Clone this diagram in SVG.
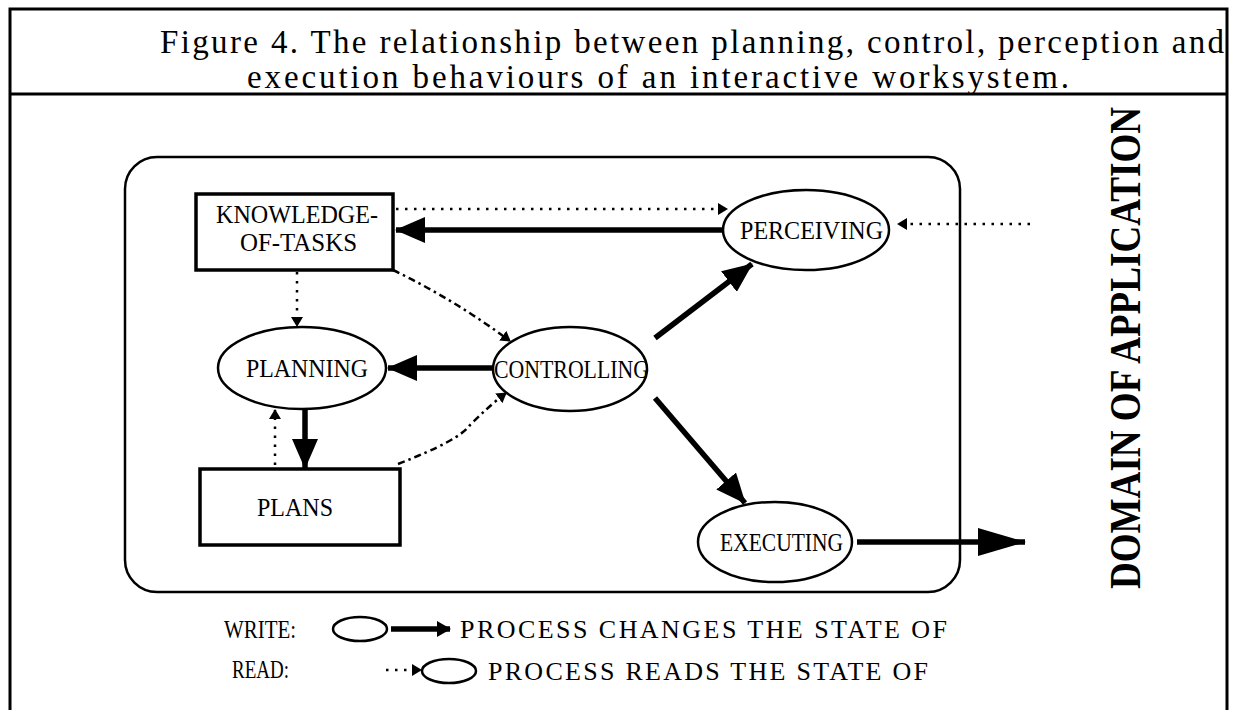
<svg xmlns="http://www.w3.org/2000/svg" width="1235" height="710" viewBox="0 0 1235 710">
<style>
  .frame{fill:none;stroke:#000;stroke-width:3}
  .node{fill:#fff;stroke:#000;stroke-width:3.5}
  .ell{fill:#fff;stroke:#000;stroke-width:2.5}
  .lbl{font-family:'Liberation Serif','Times New Roman',serif;font-size:25px;fill:#000}
  .leg{font-family:'Liberation Serif','Times New Roman',serif;font-size:26px;fill:#000}
  .title{font-family:'Liberation Serif','Times New Roman',serif;font-size:33px;fill:#000}
  .dom{font-family:'Liberation Serif','Times New Roman',serif;font-size:45px;font-weight:bold;fill:#000}
  .thick{stroke:#000;stroke-width:5.5;fill:none}
  .dot{stroke:#000;stroke-width:2.5;fill:none;stroke-dasharray:2.5 6.5}
  .dash{stroke:#000;stroke-width:2.5;fill:none;stroke-dasharray:7 4 2.5 4}
</style>
<defs>
  <marker id="big" markerUnits="userSpaceOnUse" markerWidth="30" markerHeight="26" refX="29" refY="13" orient="auto">
    <polygon points="0,0 30,13 0,26" fill="#000"/>
  </marker>
  <marker id="huge" markerUnits="userSpaceOnUse" markerWidth="48" markerHeight="28" refX="47" refY="14" orient="auto">
    <polygon points="0,0 48,14 0,28" fill="#000"/>
  </marker>
  <marker id="small" markerUnits="userSpaceOnUse" markerWidth="10" markerHeight="12" refX="9" refY="6" orient="auto">
    <polygon points="0,0 10,6 0,12" fill="#000"/>
  </marker>
  <marker id="mid" markerUnits="userSpaceOnUse" markerWidth="14" markerHeight="16" refX="13" refY="8" orient="auto">
    <polygon points="0,0 14,8 0,16" fill="#000"/>
  </marker>
</defs>
<rect width="1235" height="710" fill="#fff"/>

<g id="frame">
  <path class="frame" d="M10,712 V9 H1227 V712"/>
  <line x1="10" y1="94" x2="1227" y2="94" stroke="#000" stroke-width="3"/>
  <text class="title" x="160" y="53" textLength="1064" lengthAdjust="spacing">Figure 4. The relationship between planning, control, perception and</text>
  <text class="title" x="247" y="88" textLength="822" lengthAdjust="spacing">execution behaviours of an interactive worksystem.</text>
</g>

<g id="workspace">
  <rect x="125" y="157" width="835" height="435" rx="32" ry="32" fill="none" stroke="#000" stroke-width="2.5"/>
</g>

<g id="domain">
  <text class="dom" transform="translate(1140,348) rotate(-90)" text-anchor="middle" textLength="482" lengthAdjust="spacingAndGlyphs">DOMAIN OF APPLICATION</text>
</g>

<g id="connectors">
  <line class="thick" x1="724" y1="230" x2="396" y2="230" marker-end="url(#big)"/>
  <line class="dot" x1="396" y1="209" x2="727" y2="209" marker-end="url(#small)"/>
  <line class="dot" x1="1030" y1="224" x2="898" y2="224" marker-end="url(#small)"/>
  <line class="dot" x1="297" y1="272" x2="297" y2="326" marker-end="url(#small)"/>
  <path class="dash" d="M393,270 Q455,300 510,341" marker-end="url(#small)"/>
  <line class="thick" x1="492" y1="368" x2="388" y2="368" marker-end="url(#big)"/>
  <line class="thick" x1="655" y1="338" x2="752" y2="264" marker-end="url(#big)"/>
  <line class="thick" x1="655" y1="398" x2="745" y2="503" marker-end="url(#big)"/>
  <line class="thick" x1="305" y1="409" x2="305" y2="468" marker-end="url(#big)"/>
  <line class="dot" x1="275" y1="465" x2="275" y2="410" marker-end="url(#small)"/>
  <path class="dash" d="M398,464 Q460,440 470,425 Q490,405 506,393" marker-end="url(#small)"/>
  <line class="thick" x1="857" y1="542" x2="1025" y2="542" marker-end="url(#huge)"/>
</g>

<g id="knowledge">
  <rect class="node" x="196" y="194" width="197" height="76"/>
  <text class="lbl" x="216" y="223" textLength="162" lengthAdjust="spacingAndGlyphs">KNOWLEDGE-</text>
  <text class="lbl" x="240" y="251" textLength="117" lengthAdjust="spacingAndGlyphs">OF-TASKS</text>
</g>
<g id="perceiving">
  <ellipse class="ell" cx="806" cy="230" rx="83" ry="40"/>
  <text class="lbl" x="740" y="239" textLength="143" lengthAdjust="spacingAndGlyphs">PERCEIVING</text>
</g>
<g id="planning">
  <ellipse class="ell" cx="302" cy="368" rx="84" ry="41"/>
  <text class="lbl" x="246" y="377" textLength="122" lengthAdjust="spacingAndGlyphs">PLANNING</text>
</g>
<g id="controlling">
  <ellipse class="ell" cx="570" cy="369" rx="77" ry="42"/>
  <text class="lbl" x="494" y="378" textLength="155" lengthAdjust="spacingAndGlyphs">CONTROLLING</text>
</g>
<g id="plans">
  <rect class="node" x="200" y="469" width="200" height="76"/>
  <text class="lbl" x="257" y="516" textLength="76" lengthAdjust="spacingAndGlyphs">PLANS</text>
</g>
<g id="executing">
  <ellipse class="ell" cx="775" cy="542" rx="77" ry="40"/>
  <text class="lbl" x="720" y="551" textLength="123" lengthAdjust="spacingAndGlyphs">EXECUTING</text>
</g>

<g id="legend">
  <text class="leg" x="224" y="638" textLength="72" lengthAdjust="spacingAndGlyphs">WRITE:</text>
  <ellipse cx="360" cy="629" rx="27" ry="12" fill="none" stroke="#000" stroke-width="2.5"/>
  <line x1="391" y1="629" x2="450" y2="629" stroke="#000" stroke-width="5.5" marker-end="url(#mid)"/>
  <text class="leg" x="460" y="638" textLength="487" lengthAdjust="spacing">PROCESS CHANGES THE STATE OF</text>
  <text class="leg" x="232" y="678" textLength="57" lengthAdjust="spacingAndGlyphs">READ:</text>
  <line class="dot" x1="386" y1="670" x2="421" y2="670" marker-end="url(#small)"/>
  <ellipse cx="449" cy="671" rx="27" ry="12" fill="none" stroke="#000" stroke-width="2.5"/>
  <text class="leg" x="488" y="680" textLength="440" lengthAdjust="spacing">PROCESS READS THE STATE OF</text>
</g>
</svg>
